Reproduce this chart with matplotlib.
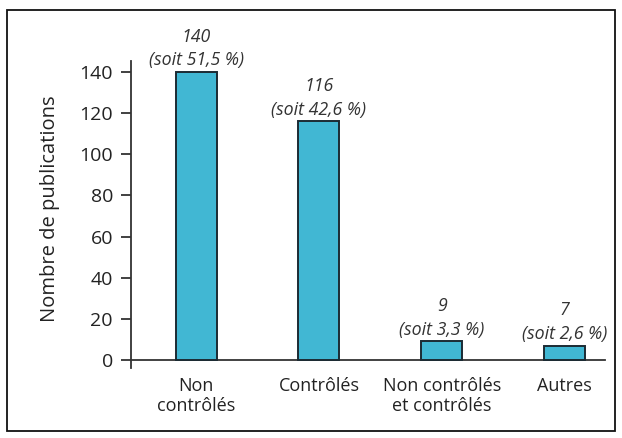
import matplotlib
matplotlib.use("Agg")
import matplotlib.pyplot as plt
from matplotlib.patches import Rectangle

categories = ["Non\ncontrôlés", "Contrôlés", "Non contrôlés\net contrôlés", "Autres"]
values = [140, 116, 9, 7]
percents = ["51,5", "42,6", "3,3", "2,6"]
yticks = [0, 20, 40, 60, 80, 100, 120, 140]

plt.rcParams['font.family'] = ['Open Sans', 'DejaVu Sans']

fig = plt.figure(figsize=(6.22, 4.38), dpi=100)
ax = fig.add_axes([131/622, (438-368)/438, (605-131)/622, (368-61)/438])

x = list(range(len(categories)))
ax.bar(x, values, width=0.335, color="#41b7d3", edgecolor="#1b2b33", linewidth=1.4, zorder=3)

for xi, v, p in zip(x, values, percents):
    ax.annotate(f"{v}\n(soit {p} %)", (xi, v), xytext=(0, 2), textcoords="offset points",
                ha="center", va="bottom", fontsize=12.8, style="italic", color="#333333",
                linespacing=1.4)

ax.set_xlim(-0.53, 3.33)
ax.set_ylim(-3.9, 145.4)
ax.set_yticks(yticks)
ax.set_yticklabels([str(t) for t in yticks])
ax.set_xticks(x)
ax.set_xticklabels(categories, linespacing=1.3)
ax.tick_params(axis="x", length=0, pad=12, labelsize=13, labelcolor="#222222")
ax.tick_params(axis="y", length=7, width=1.3, color="#333333", pad=6, direction="out",
               labelsize=14, labelcolor="#222222")

for s in ["top", "right"]:
    ax.spines[s].set_visible(False)
ax.spines["bottom"].set_position(("data", 0))
ax.spines["bottom"].set_linewidth(1.3)
ax.spines["left"].set_linewidth(1.3)
ax.spines["bottom"].set_color("#333333")
ax.spines["left"].set_color("#333333")

ax.set_ylabel("Nombre de publications", fontsize=14.5, color="#222222")
ax.yaxis.set_label_coords(-(131 - 60) / 474, 0.52)

fig.patches.append(Rectangle((7/622, (438-431)/438), (615-7)/622, (431-10)/438,
                             transform=fig.transFigure, fill=False, edgecolor="#111111",
                             linewidth=1.3))

fig.savefig("out.png", dpi=100)
